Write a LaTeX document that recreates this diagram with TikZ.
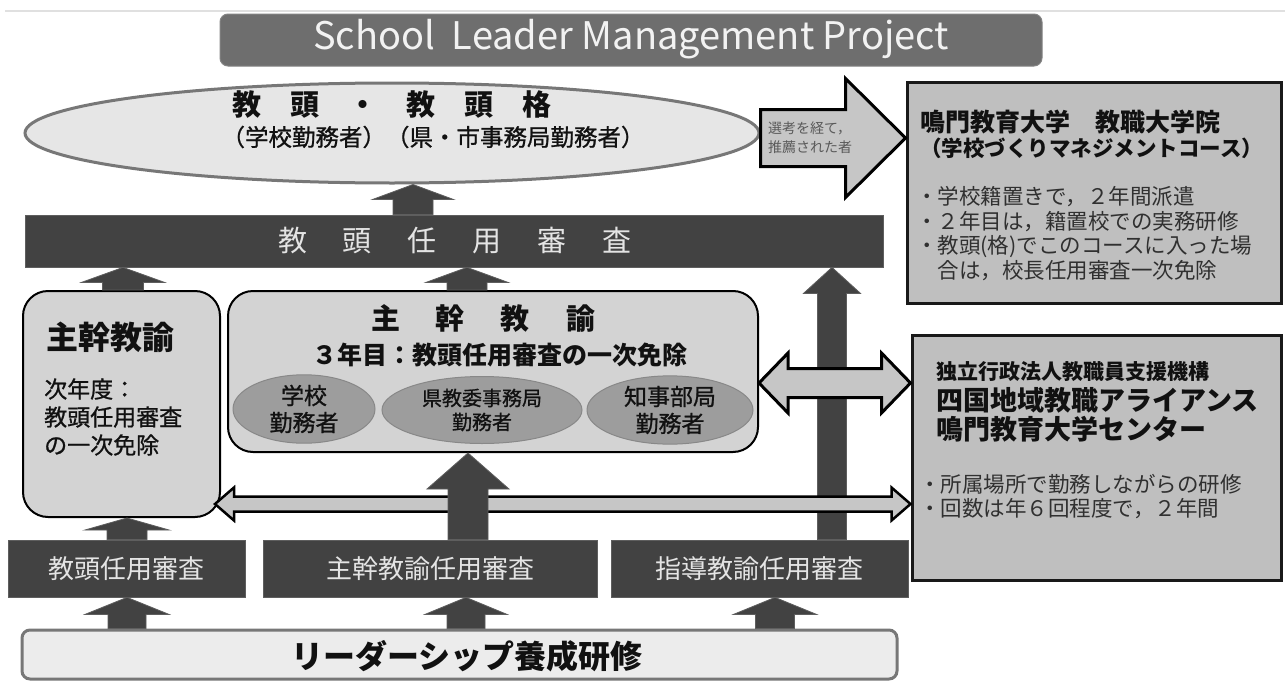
\documentclass[tikz,border=0pt]{standalone}
\usepackage{fontspec}
\setmainfont{Noto Sans CJK JP}
\newfontfamily\semijp{Noto Sans CJK JP}[FakeBold=0.9]
\usetikzlibrary{calc,shapes.geometric}

\definecolor{bannerfill}{HTML}{6E6E6E}
\definecolor{ellfill}{HTML}{E6E6E6}
\definecolor{ellline}{HTML}{777777}
\definecolor{darkfill}{HTML}{424242}
\definecolor{darkedge}{HTML}{5E5E5E}
\definecolor{boxfill}{HTML}{D3D3D3}
\definecolor{subfill}{HTML}{9D9D9D}
\definecolor{subline}{HTML}{888888}
\definecolor{sidefill}{HTML}{BFBFBF}
\definecolor{palefill}{HTML}{C6C6C6}
\definecolor{leadfill}{HTML}{ECECEC}
\definecolor{inktext}{HTML}{111111}
\definecolor{bodytext}{HTML}{303030}
\definecolor{lighttext}{HTML}{E4E4E4}

\newcommand{\fsz}[2]{\fontsize{#1}{#2}\selectfont}

% vertical block arrow: #1 foot, #2 tip, #3 half head width, #4 half shaft width, #5 head length
\newcommand{\uparr}[5]{%
  \draw[blkarrow] let \p1=(#1), \p2=(#2) in
    (\x1-#4pt,\y1) -- (\x1-#4pt,\y2-#5pt) -- (\x1-#3pt,\y2-#5pt) -- (\x1,\y2)
    -- (\x1+#3pt,\y2-#5pt) -- (\x1+#4pt,\y2-#5pt) -- (\x1+#4pt,\y1) -- cycle;}

% horizontal two-headed arrow: #1 left tip, #2 right tip, #3 half head, #4 half shaft,
% #5 head length, #6 outline width
\newcommand{\dblarr}[6]{%
  \draw[dblarrow,line width=#6] let \p1=(#1), \p2=(#2) in
    (\x1,\y1) -- (\x1+#5pt,\y1+#3pt) -- (\x1+#5pt,\y1+#4pt) -- (\x2-#5pt,\y1+#4pt)
    -- (\x2-#5pt,\y1+#3pt) -- (\x2,\y1) -- (\x2-#5pt,\y1-#3pt) -- (\x2-#5pt,\y1-#4pt)
    -- (\x1+#5pt,\y1-#4pt) -- (\x1+#5pt,\y1-#3pt) -- cycle;}

\tikzset{
  blkarrow/.style={fill=darkfill, draw=darkedge, line width=0.8pt},
  dblarrow/.style={fill=palefill, draw=black, line join=miter},
  darkbar/.style={rectangle, fill=darkfill, draw=darkedge, line width=0.8pt,
    inner sep=0pt, text=lighttext},
  softbox/.style={rectangle, rounded corners=25pt, fill=boxfill, draw=black,
    line width=2pt, inner sep=0pt},
  sidebox/.style={rectangle, fill=sidefill, draw=black!90, line width=3pt, inner sep=0pt},
  subell/.style={ellipse, fill=subfill, draw=subline, line width=1pt, inner sep=0pt,
    align=center, text=inktext},
  label/.style={inner sep=0pt, text=inktext},
  bullet/.style={inner sep=0pt, anchor=west, text=bodytext},
}

\begin{document}
\begin{tikzpicture}[x=1pt, y=-1pt]
\useasboundingbox (0,0) rectangle (1285,680);
\fill[white] (0,0) rectangle (1285,680);

% thin rule at the very top
\draw[black!12, line width=1.2pt] (5,11) -- (1285,11);

% project banner
\node[rectangle, rounded corners=8pt, fill=bannerfill, draw=bannerfill!85!white,
  line width=1pt, minimum width=822pt, minimum height=52pt, inner sep=0pt]
  (banner) at (631,40) {};
\node[inner sep=0pt, text=white!95!black, font=\fsz{38}{44}] (bannertxt) at (631,39)
  {School\ \ Leader Management Project};

% vice-principal ellipse
\node[ellipse, fill=ellfill, draw=ellline, line width=3pt, minimum width=734pt,
  minimum height=100pt, inner sep=0pt] (el) at (392,133) {};
\node[label, font=\bfseries\fsz{29}{34}] (eltitle) at (392,105) {教　頭　・　教　頭　格};
\node[label, font=\semijp\fsz{23.5}{28}] (elsub) at (433,137) {（学校勤務者）（県・市事務局勤務者）};

% graduate school box
\node[sidebox, minimum width=374pt, minimum height=221pt] (r1) at (1094,192.5) {};
\node[label, anchor=west, font=\bfseries\fsz{25}{30}] (r1a) at (920,122) {鳴門教育大学　教職大学院};
\node[label, anchor=west, font=\bfseries\fsz{21.5}{25}] (r1b) at (920,148) {（学校づくりマネジメントコース）};
\node[bullet, font=\fsz{21.5}{25}] (r1c) at (916,197) {・学校籍置きで，２年間派遣};
\node[bullet, font=\fsz{21.5}{25}] (r1d) at (916,222) {・２年目は，籍置校での実務研修};
\node[bullet, font=\fsz{21.5}{25}] (r1e) at (916,247) {・教頭(格)でこのコースに入った場};
\node[bullet, font=\fsz{21.5}{25}] (r1f) at (937.5,271) {合は，校長任用審査一次免除};

% recommendation arrow
\draw[fill=palefill, draw=black, line width=3pt, line join=miter]
  let \p1=(el.east |- 0,138), \p2=(r1.west |- 0,138) in
  (\x1,\y1+28.5pt) -- (\x2-60pt,\y1+28.5pt) -- (\x2-60pt,\y1+59.5pt) -- (\x2,\y1)
  -- (\x2-60pt,\y1-59.5pt) -- (\x2-60pt,\y1-28.5pt) -- (\x1,\y1-28.5pt) -- cycle;
\node[inner sep=0pt, anchor=west, align=left, text=black!65, font=\fsz{14}{19}] (sel)
  at (768,138) {選考を経て，\\推薦された者};

% vice-principal selection bar
\node[darkbar, minimum width=858pt, minimum height=52pt] (bar) at (454,241) {};
\node[inner sep=0pt, text=lighttext, font=\fsz{29}{34}] (bartxt) at (455,241)
  {教\hspace{36pt}頭\hspace{36pt}任\hspace{36pt}用\hspace{36pt}審\hspace{36pt}査};

% head teacher boxes
\node[softbox, minimum width=197pt, minimum height=226pt] (lb) at (121.5,404) {};
\node[label, anchor=west, font=\bfseries\fsz{32}{38}] (lba) at (46,337) {主幹教諭};
\node[label, anchor=west, font=\semijp\fsz{23}{28}] (lbb) at (44,389) {次年度：};
\node[label, anchor=west, font=\semijp\fsz{23}{28}] (lbc) at (44,417) {教頭任用審査};
\node[label, anchor=west, font=\semijp\fsz{23}{28}] (lbd) at (44,445) {の一次免除};

\node[softbox, minimum width=530pt, minimum height=161pt] (mb) at (493,371.5) {};
\node[label, font=\bfseries\fsz{29}{34}] (mba) at (483,318)
  {主\hspace{36pt}幹\hspace{36pt}教\hspace{36pt}諭};
\node[label, font=\bfseries\fsz{25}{30}] (mbb) at (500,355) {３年目：教頭任用審査の一次免除};
\node[subell, minimum width=142pt, minimum height=66pt, font=\semijp\fsz{23}{27}] (e1) at (304,409)
  {学校\\勤務者};
\node[subell, minimum width=200pt, minimum height=67pt, font=\semijp\fsz{20}{24}] (e2) at (482,410)
  {県教委事務局\\勤務者};
\node[subell, minimum width=166pt, minimum height=66pt, font=\semijp\fsz{23}{27}] (e3) at (670,410)
  {知事部局\\勤務者};

% teachers' alliance box
\node[sidebox, minimum width=369pt, minimum height=245pt] (r2) at (1096.5,457.5) {};
\node[label, anchor=west, font=\bfseries\fsz{21}{25}] (r2a) at (936,372) {独立行政法人教職員支援機構};
\node[label, anchor=west, font=\bfseries\fsz{27}{32}] (r2b) at (936,400) {四国地域教職アライアンス};
\node[label, anchor=west, font=\bfseries\fsz{27}{32}] (r2c) at (936,429) {鳴門教育大学センター};
\node[bullet, font=\fsz{21.5}{25}] (r2d) at (919,484) {・所属場所で勤務しながらの研修};
\node[bullet, font=\fsz{21.5}{25}] (r2e) at (919,509) {・回数は年６回程度で，２年間};

% selection exams
\node[darkbar, minimum width=237pt, minimum height=57pt, font=\fsz{26}{30}] (k1) at (126.5,568.5) {教頭任用審査};
\node[darkbar, minimum width=334pt, minimum height=57pt, font=\fsz{26}{30}] (k2) at (430,568.5) {主幹教諭任用審査};
\node[darkbar, minimum width=297pt, minimum height=57pt, font=\fsz{26}{30}] (k3) at (759.5,568.5) {指導教諭任用審査};

% leadership training
\node[rectangle, rounded corners=8pt, fill=leadfill, draw=ellline, line width=3pt,
  minimum width=875pt, minimum height=49pt, inner sep=0pt] (lead) at (459.5,654.5) {};
\node[label, font=\bfseries\fsz{32}{38}] (leadtxt) at (467,656) {リーダーシップ養成研修};

% upward flow
\uparr{413,0 |- bar.north}{413,0 |- el.south}{40.5}{20}{15}
\uparr{123,0 |- lb.north}{123,0 |- bar.south}{41.5}{20.5}{15}
\uparr{467,0 |- mb.north}{467,0 |- bar.south}{41}{20}{15}
\uparr{832,0 |- k3.north}{832,0 |- bar.south}{28.5}{14.5}{26}
\uparr{127,0 |- k1.north}{127,0 |- lb.south}{42}{20}{12}
\uparr{127,0 |- lead.north}{127,0 |- k1.south}{42}{19}{17}
\uparr{466,0 |- lead.north}{466,0 |- k2.south}{41}{19}{17}
\uparr{775,0 |- lead.north}{775,0 |- k3.south}{41.5}{19.5}{17}

% exchanges with the alliance centre
\dblarr{mb.east |- 0,383}{r2.west |- 0,383}{30}{14.5}{29}{3pt}
\dblarr{[xshift=-6pt]lb.east |- 0,504}{r2.west |- 0,504}{16.5}{7.5}{19}{2.5pt}

% head-teacher exam into the head-teacher box (drawn over the long arrow)
\uparr{468,0 |- k2.north}{468,0 |- mb.south}{41}{20}{36}
\end{tikzpicture}
\end{document}
